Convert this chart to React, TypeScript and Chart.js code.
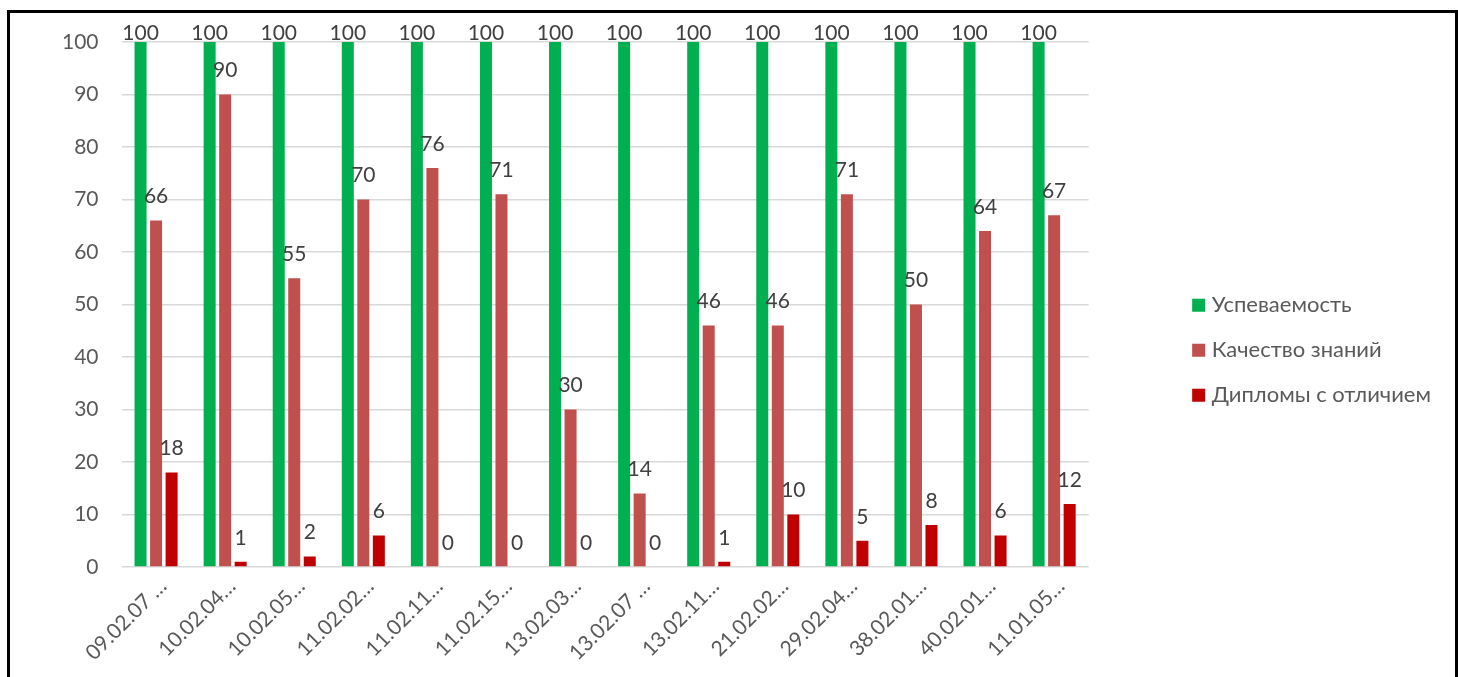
import React, { useEffect, useRef } from "react";
import { Chart, registerables } from "chart.js";

Chart.register(...registerables);

const categories = [
  "09.02.07 …",
  "10.02.04…",
  "10.02.05…",
  "11.02.02…",
  "11.02.11…",
  "11.02.15…",
  "13.02.03…",
  "13.02.07 …",
  "13.02.11…",
  "21.02.02…",
  "29.02.04…",
  "38.02.01…",
  "40.02.01…",
  "11.01.05…",
];

const uspevaemost = [100, 100, 100, 100, 100, 100, 100, 100, 100, 100, 100, 100, 100, 100];
const kachestvo = [66, 90, 55, 70, 76, 71, 30, 14, 46, 46, 71, 50, 64, 67];
const diplomy = [18, 1, 2, 6, 0, 0, 0, 0, 1, 10, 5, 8, 6, 12];

const yTicks = [0, 10, 20, 30, 40, 50, 60, 70, 80, 90, 100];

const FONT = "Lato, 'Noto Sans', sans-serif";

const barLabels = {
  id: "barLabels",
  afterDatasetsDraw(chart: any) {
    const ctx = chart.ctx;
    const top = chart.chartArea.top;
    ctx.save();
    ctx.font = `21px ${FONT}`;
    ctx.fillStyle = "#404040";
    ctx.textAlign = "center";
    ctx.textBaseline = "middle";
    chart.data.datasets.forEach((ds: any, di: number) => {
      const meta = chart.getDatasetMeta(di);
      meta.data.forEach((el: any, i: number) => {
        const v = ds.data[i];
        const y = Math.max(el.y - 24, top - 9);
        ctx.fillText(String(v), el.x, y);
      });
    });
    ctx.restore();
  },
};

export default function App() {
  const ref = useRef<HTMLCanvasElement>(null);
  useEffect(() => {
    if (!ref.current) return;
    const chart = new Chart(ref.current, {
      type: "bar",
      data: {
        labels: categories,
        datasets: [
          { label: "Успеваемость", data: uspevaemost, backgroundColor: "#00B050" },
          { label: "Качество знаний", data: kachestvo, backgroundColor: "#C0504D" },
          { label: "Дипломы с отличием", data: diplomy, backgroundColor: "#C00000" },
        ],
      },
      options: {
        animation: false,
        responsive: false,
        maintainAspectRatio: false,
        datasets: { bar: { categoryPercentage: 0.674, barPercentage: 0.774 } },
        layout: { padding: { left: 36, right: 13, top: 28, bottom: 28 } },
        plugins: {
          tooltip: { enabled: false },
          legend: {
            position: "right",
            align: "start",
            title: { display: true, text: " ", font: { size: 6 }, padding: 111 },
            labels: {
              usePointStyle: true,
              pointStyle: "rect",
              boxWidth: 4,
              boxHeight: 13,
              padding: 23,
              color: "#595959",
              font: { family: FONT, size: 22 },
            },
          },
        },
        scales: {
          x: {
            grid: { display: false, drawTicks: false },
            border: { display: false },
            ticks: {
              color: "#595959",
              font: { family: FONT, size: 21 },
              minRotation: 45,
              maxRotation: 45,
              autoSkip: false,
              padding: 7,
              labelOffset: 7,
            },
            afterFit: (scale: any) => {
              scale.height = 110;
            },
          },
          y: {
            min: 0,
            max: 100,
            afterBuildTicks: (scale: any) => {
              scale.ticks = yTicks.map((v) => ({ value: v }));
            },
            grid: {
              color: "#d9d9d9",
              lineWidth: 1.5,
              drawTicks: true,
              tickLength: 8,
              tickColor: "rgba(0,0,0,0)",
            },
            border: { display: false },
            ticks: {
              color: "#595959",
              font: { family: FONT, size: 21 },
              padding: 15,
            },
          },
          gap: {
            position: "right",
            display: false,
            grid: { display: false },
            border: { display: false },
            ticks: { display: false },
            afterFit: (scale: any) => {
              scale.width = 85;
            },
          },
        },
      },
      plugins: [barLabels],
    } as any);
    return () => chart.destroy();
  }, []);

  return (
    <div
      style={{
        position: "fixed",
        left: 7,
        top: 10,
        width: 1445,
        height: 700,
        border: "3px solid #000",
        borderBottom: "none",
        overflow: "hidden",
        background: "#fff",
      }}
    >
      <canvas
        ref={ref}
        width={1443}
        height={691}
        style={{ position: "absolute", left: 1, top: 1, width: 1443, height: 691 }}
      />
    </div>
  );
}
